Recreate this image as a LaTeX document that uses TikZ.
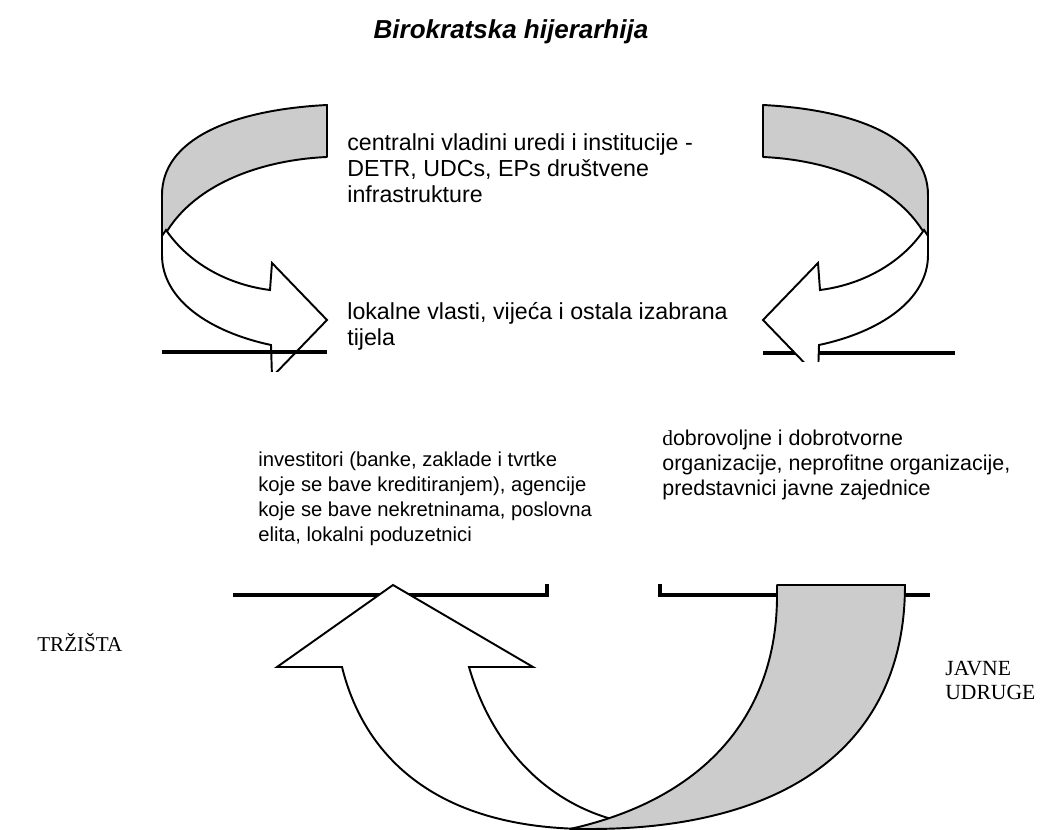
\documentclass[tikz,border=0pt]{standalone}
\usepackage{fontspec}
\usepackage{xcolor}
\usepackage{tikz}
\setmainfont{Liberation Sans}
\newfontfamily\timesfont{Liberation Serif}
\definecolor{bandgrey}{RGB}{204,204,204}

\begin{document}
\begin{tikzpicture}[x=0.2mm, y=-0.2mm,
    txt/.style={inner sep=0pt, align=left, anchor=north west, font=\fontsize{11.5pt}{14.2pt}\selectfont},
    sidelabel/.style={inner sep=0pt, align=left, anchor=base west, font=\fontsize{12.3pt}{14.2pt}\selectfont\timesfont},
    band/.style={draw=black, line width=1.1pt, fill=bandgrey, line join=round},
    flow/.style={draw=black, line width=1.1pt, fill=white, line join=miter},
    rule/.style={draw=black, line width=2.2pt}]
     \useasboundingbox (0,0) rectangle (1063,830);

     % title
     \node[inner sep=0pt, anchor=base, font=\fontsize{14.8pt}{16pt}\selectfont\bfseries\itshape] (title) at (511,39) {Birokratska hijerarhija};

     % top left ribbon
     \begin{scope}
          \clip (150,95) rectangle (340,372);
          \path[band] (327,105) .. controls (230,110) and (162,140) .. (162,195) -- (162,240) .. controls (190,185) and (260,160) .. (327,157) -- cycle;
          \path[flow] (166,230) .. controls (190,265) and (230,285) .. (270,290) -- (272,263) -- (327,320) -- (272,377) -- (271,345) .. controls (210,332) and (162,300) .. (162,255) -- (162,236) -- cycle;
          \draw[rule] (162,352) -- (327,352);
     \end{scope}

     % top right ribbon
     \begin{scope}
          \clip (750,95) rectangle (960,362);
          \path[band] (763,105) .. controls (860,110) and (928,140) .. (928,195) -- (928,240) .. controls (900,185) and (830,160) .. (763,157) -- cycle;
          \draw[rule] (763,353) -- (955,353);
          \path[flow] (924,230) .. controls (900,265) and (860,285) .. (820,290) -- (818,263) -- (763,320) -- (818,377) -- (819,345) .. controls (880,332) and (928,300) .. (928,255) -- (928,236) -- cycle;
     \end{scope}

     % bottom ribbon
     \begin{scope}
          \clip (0,583) rectangle (1063,831);
          \draw[rule] (233,595) -- (547,595) -- (547,584);
          \draw[rule] (660,584) -- (660,595) -- (930,595);
          \path[flow] (393,585) -- (533,667) -- (469,667) .. controls (490,740) and (540,800) .. (615,820) -- (590,829) .. controls (440,829) and (365,760) .. (342,667) -- (277,667) -- cycle;
          \path[band] (777,585) -- (777,600) .. controls (775,720) and (700,800) .. (570,829) -- (590,829) .. controls (780,829) and (905,750) .. (905,585) -- cycle;
     \end{scope}

     % texts
     \node[txt, font=\fontsize{13.2pt}{14.8pt}\selectfont] (central) at (347,133) {centralni vladini uredi i institucije -\\DETR, UDCs, EPs društvene\\infrastrukture};
     \node[txt, font=\fontsize{13.2pt}{14.8pt}\selectfont] (local) at (347,302) {lokalne vlasti, vijeća i ostala izabrana\\tijela};
     \node[txt, font=\fontsize{11.5pt}{14.2pt}\selectfont] (investors) at (258,452) {investitori (banke, zaklade i tvrtke\\koje se bave kreditiranjem), agencije\\koje se bave nekretninama, poslovna\\elita, lokalni poduzetnici};
     \node[txt, font=\fontsize{12.2pt}{14.2pt}\selectfont] (voluntary) at (662,430) {{\timesfont d}obrovoljne i dobrotvorne\\organizacije, neprofitne organizacije,\\predstavnici javne zajednice};
     \node[sidelabel, font=\fontsize{12pt}{14.2pt}\selectfont\timesfont] (market) at (37,652) {TRŽIŠTA};
     \node[sidelabel] (public) at (945,700) {JAVNE\\UDRUGE};
\end{tikzpicture}
\end{document}
